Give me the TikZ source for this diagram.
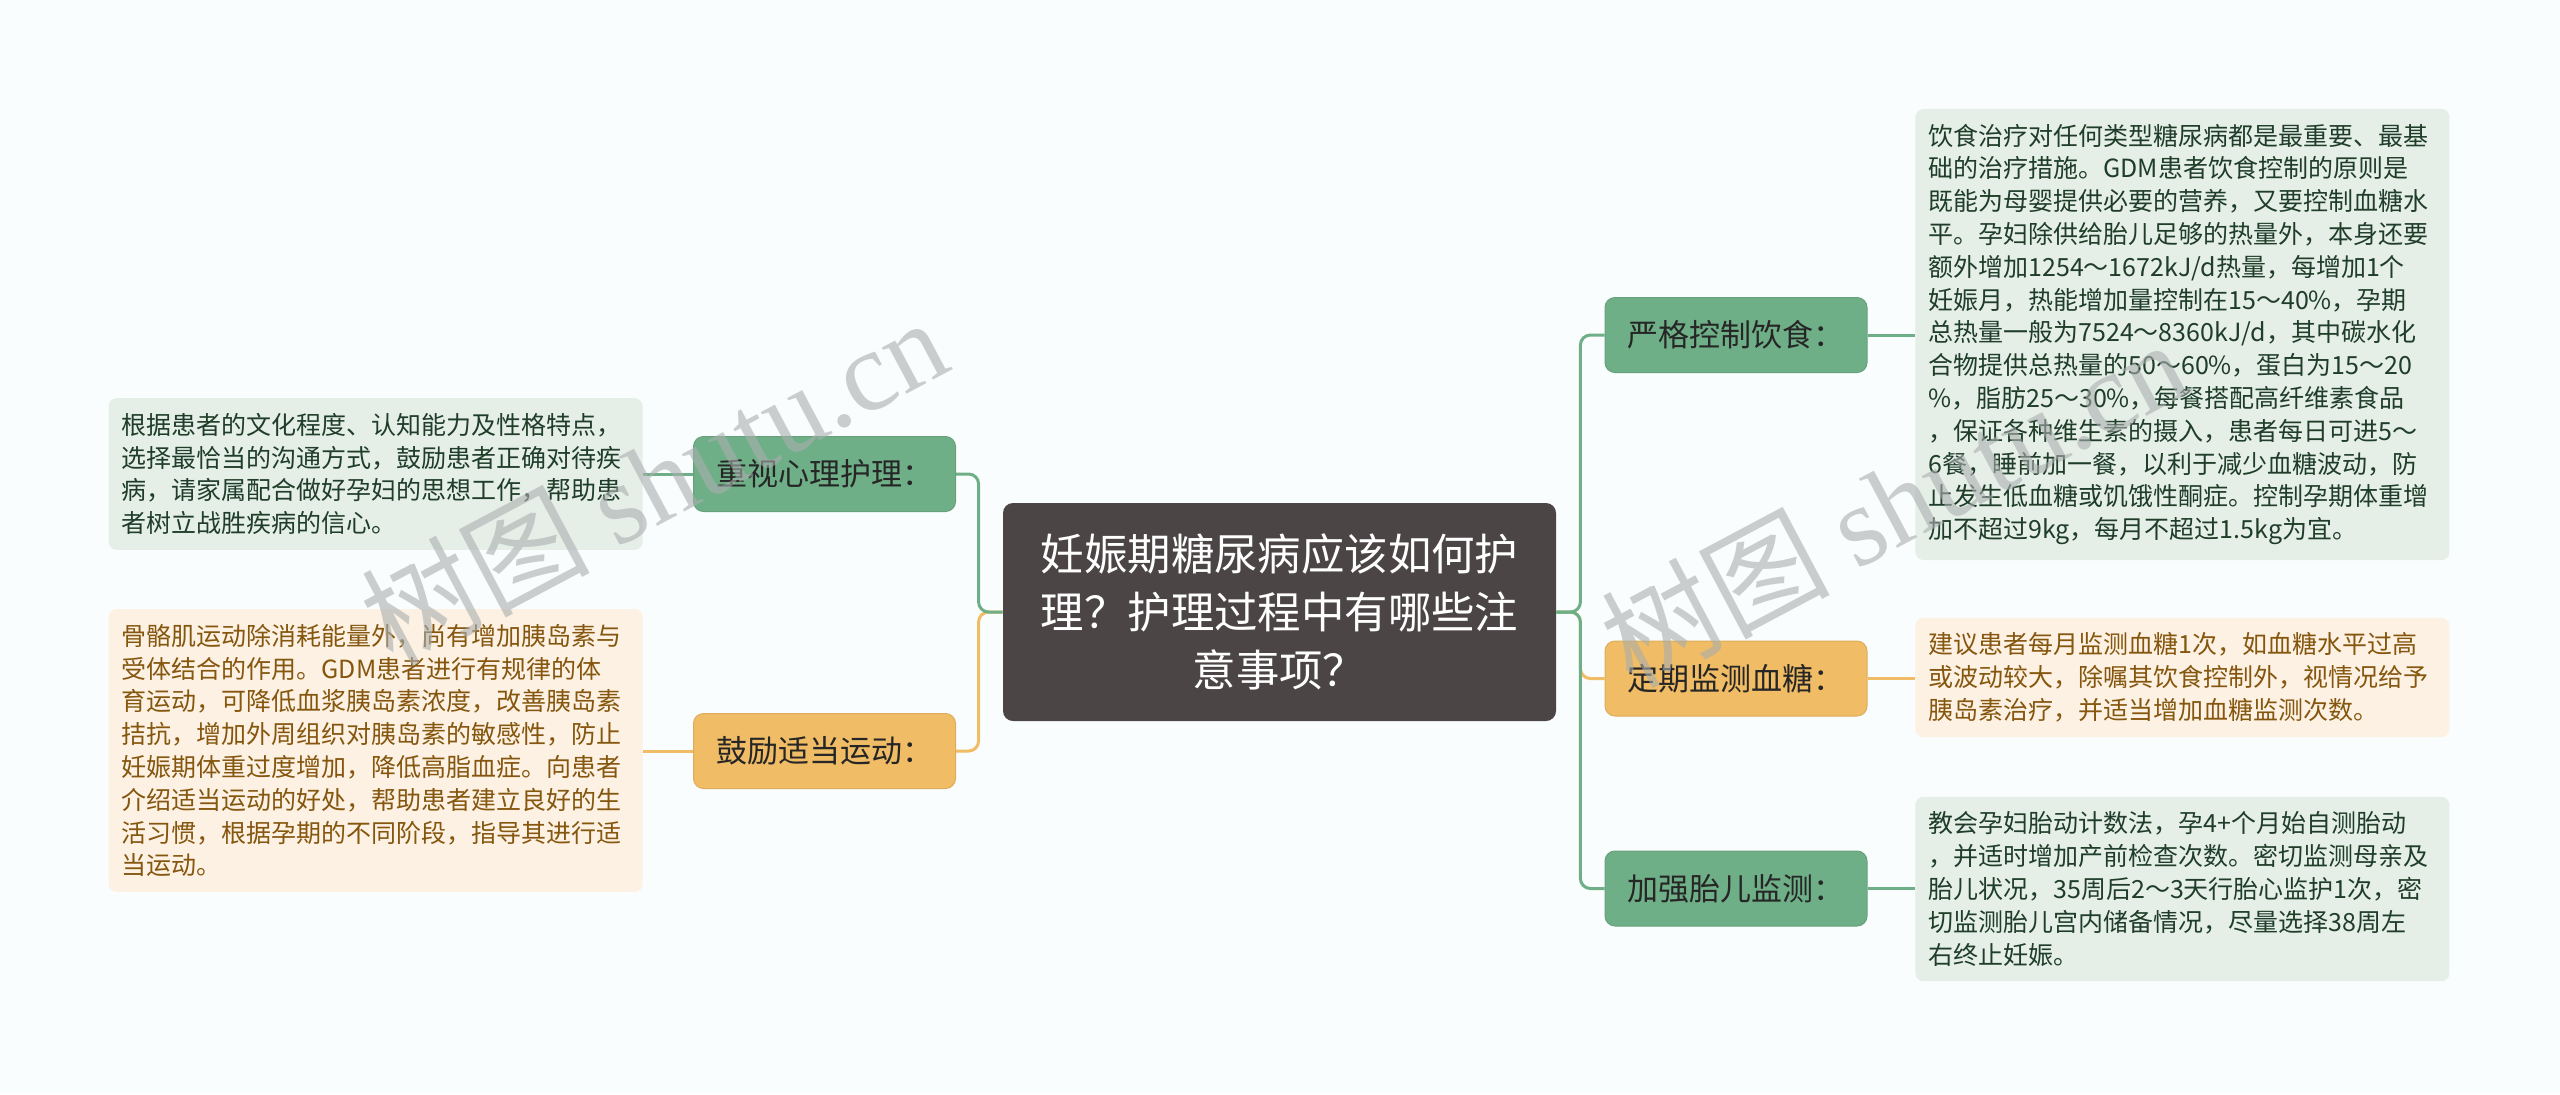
\documentclass[tikz,border=0pt]{standalone}
\usepackage{fontspec}
\newfontfamily\cjk{Noto Sans CJK SC}
\newfontfamily\wmfont{Liberation Serif}

\definecolor{bgc}{HTML}{FAFDFD}
\definecolor{topicc}{HTML}{4B4546}
\definecolor{grn}{HTML}{6FAF87}
\definecolor{org}{HTML}{F0BC65}
\definecolor{grnbox}{HTML}{E5EFE8}
\definecolor{orgbox}{HTML}{FDF1E3}
\definecolor{grntxt}{HTML}{1F3D29}
\definecolor{orgtxt}{HTML}{85560E}
\definecolor{wmc}{HTML}{A9AEAE}

\tikzset{
  topic/.style={fill=topicc, text=white, rounded corners=5pt, align=center,
    minimum width=276.5pt, minimum height=109pt,
    font={\cjk\fontsize{21.7}{29}\selectfont}},
  branch/.style={rounded corners=5pt, minimum width=131pt, minimum height=37.5pt,
    text=black!85, font={\cjk\fontsize{15.5}{18}\selectfont}},
  gbranch/.style={branch, fill=grn, draw=grn!92!black, line width=0.5pt},
  obranch/.style={branch, fill=org, draw=org!92!black, line width=0.5pt},
  note/.style={rounded corners=4pt, text width=254pt, align=left,
    inner xsep=6.5pt, inner ysep=7.5pt,
    font={\cjk\fontsize{12.5}{16.4}\selectfont}},
  gnote/.style={note, fill=grnbox, text=grntxt},
  onote/.style={note, fill=orgbox, text=orgtxt},
  gline/.style={draw=grn, line width=1.5pt, rounded corners=5pt},
  oline/.style={draw=org, line width=1.5pt, rounded corners=5pt},
  wmark/.style={text=wmc, text opacity=0.6, inner sep=0pt,
    font={\cjk\fontsize{57}{62}\selectfont}}
}

\begin{document}
\begin{tikzpicture}[x=0.5pt,y=-0.5pt]
\fill[bgc] (0,0) rectangle (2560,1094);
\useasboundingbox (0,0) rectangle (2560,1094);

% centre
\node[topic] (ctr) at (1279.5,612) {妊娠期糖尿病应该如何护\\理？护理过程中有哪些注\\意事项？};

% left side
\node[gbranch] (xinli) at (824.5,474) {重视心理护理：};
\node[obranch] (yundong) at (824.5,751) {鼓励适当运动：};

\node[gnote, anchor=east] (xinlitxt) at (643,474) {根据患者的文化程度、认知能力及性格特点，\\选择最恰当的沟通方式，鼓励患者正确对待疾\\病，请家属配合做好孕妇的思想工作，帮助患\\者树立战胜疾病的信心。};
\node[onote, anchor=east] (yundongtxt) at (643,750.5) {骨骼肌运动除消耗能量外，尚有增加胰岛素与\\受体结合的作用。GDM患者进行有规律的体\\育运动，可降低血浆胰岛素浓度，改善胰岛素\\拮抗，增加外周组织对胰岛素的敏感性，防止\\妊娠期体重过度增加，降低高脂血症。向患者\\介绍适当运动的好处，帮助患者建立良好的生\\活习惯，根据孕期的不同阶段，指导其进行适\\当运动。};

% right side
\node[gbranch] (yinshi) at (1736,335) {严格控制饮食：};
\node[obranch] (xuetang) at (1736,678.5) {定期监测血糖：};
\node[gbranch] (taier) at (1736,888.5) {加强胎儿监测：};

\node[gnote, anchor=west] (yinshitxt) at (1915,334.5) {饮食治疗对任何类型糖尿病都是最重要、最基\\础的治疗措施。GDM患者饮食控制的原则是\\既能为母婴提供必要的营养，又要控制血糖水\\平。孕妇除供给胎儿足够的热量外，本身还要\\额外增加1254～1672kJ/d热量，每增加1个\\妊娠月，热能增加量控制在15～40\%，孕期\\总热量一般为7524～8360kJ/d，其中碳水化\\合物提供总热量的50～60\%，蛋白为15～20\\\%，脂肪25～30\%，每餐搭配高纤维素食品\\，保证各种维生素的摄入，患者每日可进5～\\6餐，睡前加一餐，以利于减少血糖波动，防\\止发生低血糖或饥饿性酮症。控制孕期体重增\\加不超过9kg，每月不超过1.5kg为宜。};
\node[onote, anchor=west] (xuetangtxt) at (1915,677.5) {建议患者每月监测血糖1次，如血糖水平过高\\或波动较大，除嘱其饮食控制外，视情况给予\\胰岛素治疗，并适当增加血糖监测次数。};
\node[gnote, anchor=west] (taiertxt) at (1915,889) {教会孕妇胎动计数法，孕4+个月始自测胎动\\，并适时增加产前检查次数。密切监测母亲及\\胎儿状况，35周后2～3天行胎心监护1次，密\\切监测胎儿宫内储备情况，尽量选择38周左\\右终止妊娠。};

% connectors
\draw[oline] (ctr.west) -- ++(-24,0) |- (yundong.east);
\draw[gline] (ctr.west) -- ++(-24,0) |- (xinli.east);
\draw[oline] (ctr.east) -- ++(24,0) |- (xuetang.west);
\draw[gline] (ctr.east) -- ++(24,0) |- (yinshi.west);
\draw[gline] (ctr.east) -- ++(24,0) |- (taier.west);

\draw[gline] (xinli.west) -- (xinli.west -| xinlitxt.east);
\draw[oline] (yundong.west) -- (yundong.west -| yundongtxt.east);
\draw[gline] (yinshi.east) -- (yinshi.east -| yinshitxt.west);
\draw[oline] (xuetang.east) -- (xuetang.east -| xuetangtxt.west);
\draw[gline] (taier.east) -- (taier.east -| taiertxt.west);

% watermark
\node[wmark, anchor=base west, rotate=28] (wm1) at (392,668) {树图 {\wmfont shutu.cn}};
\node[wmark, anchor=base west, rotate=28] (wm2) at (1632,690) {树图 {\wmfont shutu.cn}};
\end{tikzpicture}
\end{document}
